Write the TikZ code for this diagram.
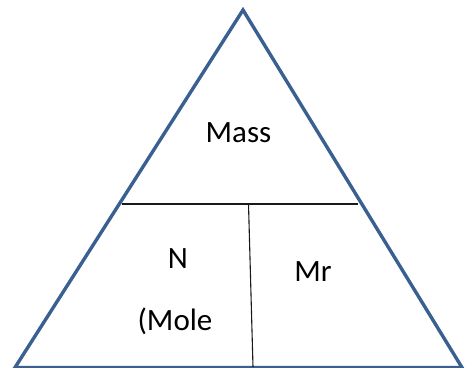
\documentclass[tikz,border=0pt]{standalone}
\usepackage{fontspec}
\setmainfont{Carlito}
\usetikzlibrary{positioning}
\definecolor{triblue}{HTML}{3A6091}

\begin{document}
\begin{tikzpicture}[x=1pt,y=-1pt,
  word/.style={font=\fontsize{31}{36}\selectfont,inner sep=0pt,anchor=base},
  edge/.style={draw=triblue,line width=3.4pt,line join=miter},
  split/.style={draw=black!90,line width=1.1pt}]
\useasboundingbox (0,0) rectangle (465,367);
\coordinate (top) at (243,10);
\coordinate (bl) at (15,367.5);
\coordinate (br) at (462,367.5);
\draw[edge] (top) -- (bl) -- (br) -- cycle;
% dividing lines
\coordinate (hl) at (122,204);
\coordinate (hr) at (358,204);
\coordinate (vt) at (248.5,204);
\coordinate (vb) at (253,367);
\draw[split] (hl) -- (hr);
\draw[split] (vt) -- (vb);
% labels
\node[word] (mass) at (238.5,142) {Mass};
\node[word] (n) at (178,268) {N};
\node[word] (mr) at (313,281.5) {Mr};
\node[word] (mole) at (175,330) {(Mole};
\end{tikzpicture}
\end{document}
